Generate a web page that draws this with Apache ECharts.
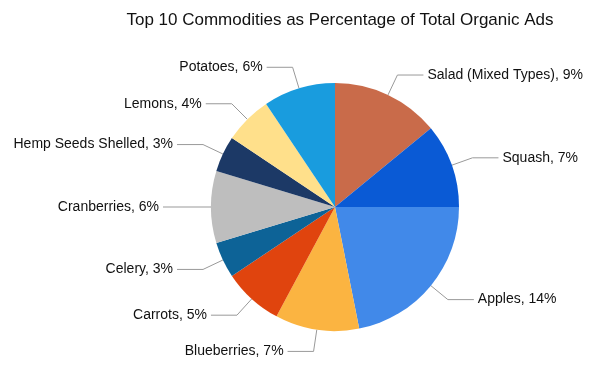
<!DOCTYPE html>
<html><head><meta charset="utf-8">
<script src="https://cdn.jsdelivr.net/npm/echarts@6/dist/echarts.min.js"></script>
<style>html,body{margin:0;padding:0;background:#fff}#c{width:600px;height:383px}</style>
</head><body><div id="c"></div>
<script>
var categories = ['Apples','Blueberries','Carrots','Celery','Cranberries','Hemp Seeds Shelled','Lemons','Potatoes','Salad (Mixed Types)','Squash'];
var values = [14,7,5,3,6,3,4,6,9,7];
var colors = ['#4189E9','#FBB441','#E0440E','#0D6397','#BEBEBE','#1C3966','#FFE08B','#199CDE','#C96B4A','#0A5AD5'];
var title = 'Top 10 Commodities as Percentage of Total Organic Ads';

var chart = echarts.init(document.getElementById('c'));
chart.setOption({
  animation:false,
  title:{text:title,left:335,top:7,textAlign:'center',textStyle:{fontFamily:'Liberation Sans, Arial',fontSize:17,fontWeight:'normal',color:'#111'}},
  series:[{
    type:'pie',
    center:[335,207],
    radius:124,
    startAngle:0,
    clockwise:true,
    data:categories.map(function(c,i){return {name:c,value:values[i],itemStyle:{color:colors[i]}};}),
    label:{formatter:function(p){return p.name+', '+p.value+'%';},fontFamily:'Liberation Sans, Arial',fontSize:14,color:'#111',distanceToLabelLine:4},
    labelLine:{length:22,length2:26,lineStyle:{color:'#999',width:1}},
    emphasis:{disabled:true}
  }]
});
</script></body></html>
